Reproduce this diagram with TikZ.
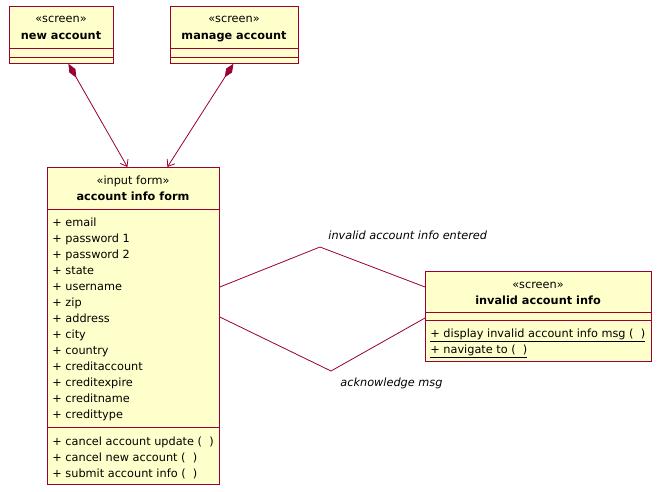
\documentclass[tikz,border=0pt]{standalone}
\usepackage{fontspec}
\setmainfont{DejaVu Sans}
\usepackage{tikz}
\usetikzlibrary{calc,arrows.meta,positioning}
\usepackage{xcolor}
\definecolor{umlline}{HTML}{990033}
\definecolor{umlfill}{HTML}{FFFFCC}
\newcommand{\umlfont}{\fontsize{11.3}{16}\selectfont}
\tikzstyle{uml}=[
  x=1pt,y=-1pt,line width=0.8pt
]
\tikzstyle{classbox}=[
  draw=umlline,fill=umlfill,rectangle,inner sep=0pt,anchor=north west
]
\tikzstyle{compline}=[
  draw=umlline
]
\tikzstyle{stereo}=[
  inner sep=0pt,anchor=base,font=\umlfont
]
\tikzstyle{classname}=[
  inner sep=0pt,anchor=base,font=\umlfont\bfseries
]
\tikzstyle{member}=[
  inner sep=0pt,anchor=base west,font=\umlfont
]
\tikzstyle{rolename}=[
  inner sep=0pt,anchor=base west,font=\umlfont\itshape
]
\tikzstyle{compedge}=[
  draw=umlline,{Diamond[length=16pt,width=7pt]}-{Straight Barb[length=6pt,width=9pt]}
]
\tikzstyle{assocedge}=[
  draw=umlline
]

\begin{document}
\begin{tikzpicture}[uml]
    \useasboundingbox[fill=white] (0,0) rectangle (661,492);
    % screens on top
    \node (newacc) at (9,6) [classbox,minimum width=104pt,minimum height=57pt] {};
    \node (manage) at (170,6) [classbox,minimum width=128pt,minimum height=57pt] {};
    \draw [compline] ($(newacc.north west)+(0,42)$) -- ($(newacc.north east)+(0,42)$);
    \draw [compline] ($(newacc.north west)+(0,51)$) -- ($(newacc.north east)+(0,51)$);
    \draw [compline] ($(manage.north west)+(0,42)$) -- ($(manage.north east)+(0,42)$);
    \draw [compline] ($(manage.north west)+(0,51)$) -- ($(manage.north east)+(0,51)$);
    \node (newacc-st) at (61,23) [stereo] {«screen»};
    \node (newacc-name) at (61,40) [classname] {new account};
    \node (manage-st) at (234,23) [stereo] {«screen»};
    \node (manage-name) at (234,40) [classname] {manage account};
    % input form
    \node (form) at (47,167) [classbox,minimum width=172pt,minimum height=317pt] {};
    \draw [compline] ($(form.north west)+(0,42)$) -- ($(form.north east)+(0,42)$);
    \draw [compline] ($(form.north west)+(0,260)$) -- ($(form.north east)+(0,260)$);
    \node (form-st) at (133,184) [stereo] {«input form»};
    \node (form-name) at (133,200.5) [classname] {account info form};
    \foreach \attr [count=\i] in {email,password 1,password 2,state,username,zip,
        address,city,country,creditaccount,creditexpire,creditname,credittype}
      \node (attr\i) at (52,210.5+16*\i) [member] {+ \attr};
    \foreach \op [count=\i] in {cancel account update,cancel new account,submit account info}
      \node (op\i) at (52,429+16*\i) [member] {+ \op~(~~)};
    % invalid info screen
    \node (invalid) at (425,271) [classbox,minimum width=226pt,minimum height=90pt] {};
    \draw [compline] ($(invalid.north west)+(0,41)$) -- ($(invalid.north east)+(0,41)$);
    \draw [compline] ($(invalid.north west)+(0,49)$) -- ($(invalid.north east)+(0,49)$);
    \node (invalid-st) at (538,288) [stereo] {«screen»};
    \node (invalid-name) at (538,304.5) [classname] {invalid account info};
    \node (display) at (430,337.5) [member] {\underline{+ display invalid account info msg (~~)}};
    \node (navigate) at (430,353.5) [member] {\underline{+ navigate to (~~)}};
    % connectors
    \draw [compedge] ($(newacc.south)+(7,0)$) -- ($(form.north)+(-6,0)$);
    \draw [compedge] ($(manage.south)+(-1,0)$) -- ($(form.north)+(34,0)$);
    \coordinate (entered) at (320,247);
    \coordinate (ack) at (331,371);
    \draw [assocedge] ($(form.north east)+(0,120)$) -- (entered) -- ($(invalid.north west)+(0,16)$);
    \draw [assocedge] ($(form.north east)+(0,150)$) -- (ack) -- ($(invalid.north west)+(0,47)$);
    \node (entered-lbl) at (328,239) [rolename] {invalid account info entered};
    \node (ack-lbl) at (340,386) [rolename] {acknowledge msg};
\end{tikzpicture}
\end{document}
